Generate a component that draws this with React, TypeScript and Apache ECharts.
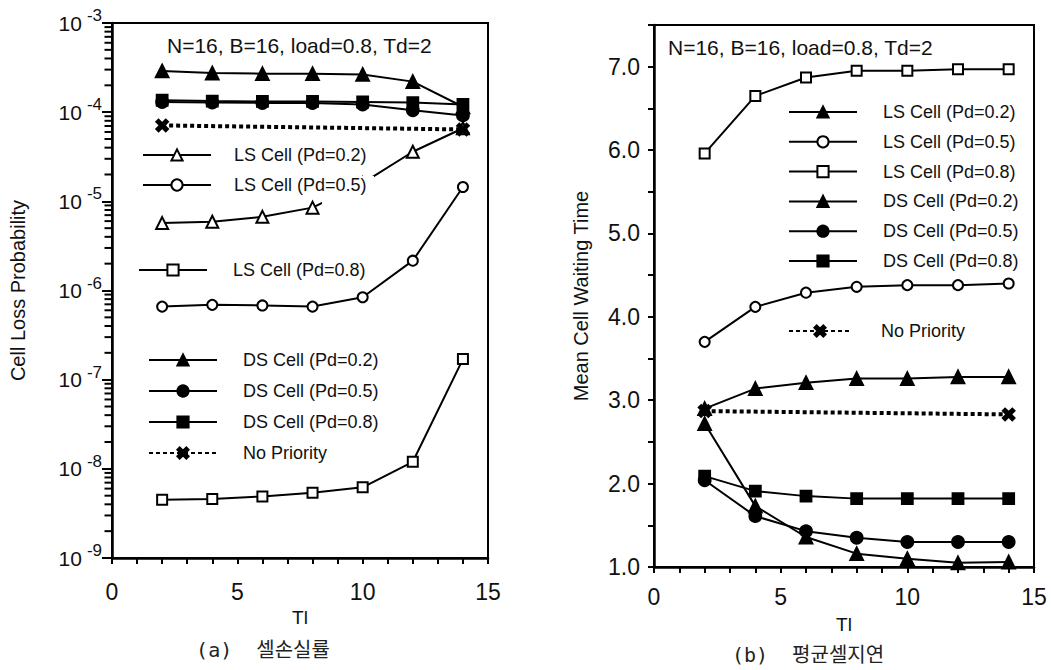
import React, { useEffect, useRef } from 'react';
import * as echarts from 'echarts';

const FONT = '"Liberation Sans", Arial, Helvetica, sans-serif';

// x positions (Tl)
const X_VALUES = [2, 4, 6, 8, 10, 12, 14];
const X_ENDS = [2, 14];

// (a) Cell loss probability
const LOSS_LS02 = [5.7e-6, 5.9e-6, 6.7e-6, 8.5e-6, 1.6e-5, 3.6e-5, 6.6e-5];
const LOSS_LS05 = [6.6e-7, 6.9e-7, 6.8e-7, 6.6e-7, 8.4e-7, 2.16e-6, 1.45e-5];
const LOSS_LS08 = [4.5e-9, 4.6e-9, 4.9e-9, 5.4e-9, 6.2e-9, 1.2e-8, 1.7e-7];
const LOSS_DS02 = [2.9e-4, 2.75e-4, 2.7e-4, 2.7e-4, 2.65e-4, 2.2e-4, 1.15e-4];
const LOSS_DS05 = [1.3e-4, 1.28e-4, 1.27e-4, 1.27e-4, 1.22e-4, 1.05e-4, 9.2e-5];
const LOSS_DS08 = [1.36e-4, 1.33e-4, 1.32e-4, 1.32e-4, 1.3e-4, 1.28e-4, 1.22e-4];
const LOSS_NP = [7.1e-5, 6.4e-5];

// (b) Mean cell waiting time
const WAIT_LS02 = [2.9, 3.14, 3.21, 3.26, 3.26, 3.28, 3.28];
const WAIT_LS05 = [3.7, 4.12, 4.29, 4.36, 4.38, 4.38, 4.4];
const WAIT_LS08 = [5.96, 6.65, 6.87, 6.95, 6.95, 6.97, 6.97];
const WAIT_DS02 = [2.72, 1.73, 1.36, 1.16, 1.1, 1.05, 1.06];
const WAIT_DS05 = [2.04, 1.61, 1.43, 1.35, 1.3, 1.3, 1.3];
const WAIT_DS08 = [2.09, 1.91, 1.85, 1.82, 1.82, 1.82, 1.82];
const WAIT_NP = [2.87, 2.83];

// log-axis minor tick multipliers and decades
const MINOR_MULT = [2, 3, 4, 5, 6, 7, 8, 9];
const DECADES = [-9, -8, -7, -6, -5, -4];

const NAMES = {
  ls02: 'LS Cell (Pd=0.2)',
  ls05: 'LS Cell (Pd=0.5)',
  ls08: 'LS Cell (Pd=0.8)',
  ds02: 'DS Cell (Pd=0.2)',
  ds05: 'DS Cell (Pd=0.5)',
  ds08: 'DS Cell (Pd=0.8)',
  np: 'No Priority',
};
const TITLE_TEXT = 'N=16, B=16, load=0.8, Td=2';

const X_SYMBOL = 'path://M0,2 L2,0 L5,3 L8,0 L10,2 L7,5 L10,8 L8,10 L5,7 L2,10 L0,8 L3,5 Z';

const pairs = (xs: number[], ys: number[]) => xs.map((x, i) => [x, ys[i]]);

function mkLine(name: string, idx: number, xs: number[], ys: number[], symbol: string, size: number, dotted = false) {
  return {
    type: 'line',
    name,
    xAxisIndex: idx,
    yAxisIndex: idx,
    data: pairs(xs, ys),
    symbol,
    symbolSize: size,
    showAllSymbol: true,
    color: '#000',
    z: 2,
    lineStyle: { color: '#000', width: dotted ? 4 : 2, type: dotted ? [4, 3] : 'solid' },
    itemStyle: { color: '#000', borderColor: '#000', borderWidth: 1.8 },
    emphasis: { disabled: true },
  };
}

const legendBase = (left: number, top: number, gap: number, pad: number, data: string[], itemWidth = 68) => ({
  orient: 'vertical',
  left,
  top,
  z: 200,
  padding: 0,
  itemGap: gap,
  itemWidth,
  itemHeight: 14,
  selectedMode: false,
  data,
  formatter: (n: string) => n.split('#')[0],
  textStyle: { fontSize: 18, fontFamily: FONT, color: '#111', lineHeight: 20, padding: [0, 0, 0, pad] },
});

export default function App() {
  const ref = useRef<HTMLDivElement>(null);
  useEffect(() => {
    if (!ref.current) return;
    const chart = echarts.init(ref.current, null, { renderer: 'svg' });

    const minorTicks: number[][] = [];
    DECADES.forEach((e) => MINOR_MULT.forEach((m) => minorTicks.push([0, m * Math.pow(10, e)])));

    const axisLine = { show: true, onZero: false, lineStyle: { color: '#000', width: 2.5 } };
    const tickLabel = { fontSize: 23, fontFamily: FONT, color: '#111' };
    const tick = (len: number, w = 2) => ({ show: true, inside: false, length: len, interval: 0, lineStyle: { color: '#000', width: w } });

    const B = '#b';

    const option: any = {
      animation: false,
      backgroundColor: '#fff',
      title: [
        { text: TITLE_TEXT, left: 167, top: 35, padding: 0, textStyle: { fontSize: 21, fontWeight: 'normal', fontFamily: FONT, color: '#111' } },
        { text: TITLE_TEXT, left: 668, top: 37, padding: 0, textStyle: { fontSize: 21, fontWeight: 'normal', fontFamily: FONT, color: '#111' } },
      ],
      grid: [
        { left: 112, top: 23, width: 376, height: 535, show: true, borderColor: '#000', borderWidth: 2, backgroundColor: 'transparent' },
        { left: 654, top: 25, width: 380, height: 542, show: true, borderColor: '#000', borderWidth: 2, backgroundColor: 'transparent' },
      ],
      xAxis: [
        {
          type: 'value', gridIndex: 0, min: 0, max: 15, interval: 1,
          axisLine, splitLine: { show: false },
          axisTick: tick(6),
          axisLabel: { ...tickLabel, margin: 22, formatter: (v: number) => (v % 5 === 0 ? String(v) : '') },
          name: 'Tl', nameLocation: 'middle', nameGap: 42,
          nameTextStyle: { fontSize: 19, fontFamily: FONT, color: '#111' },
        },
        {
          type: 'value', gridIndex: 1, min: 0, max: 15, interval: 1,
          axisLine, splitLine: { show: false },
          axisTick: tick(6),
          axisLabel: { ...tickLabel, margin: 18, formatter: (v: number) => (v % 5 === 0 ? String(v) : '') },
          name: 'Tl', nameLocation: 'middle', nameGap: 48,
          nameTextStyle: { fontSize: 19, fontFamily: FONT, color: '#111' },
        },
      ],
      yAxis: [
        {
          type: 'log', gridIndex: 0, logBase: 10, min: 1e-9, max: 1e-3, splitNumber: 6,
          axisLine, splitLine: { show: false },
          axisTick: tick(10, 2),
          axisLabel: {
            margin: 10,
            formatter: (v: number) => {
              const e = Math.round(Math.log10(v));
              return '{b|10}{s|' + e + '}';
            },
            rich: {
              b: { fontSize: 21, fontFamily: FONT, color: '#111', lineHeight: 32, verticalAlign: 'middle' },
              s: { fontSize: 17, fontFamily: FONT, color: '#111', lineHeight: 17, verticalAlign: 'top', padding: [0, 0, 0, 5] },
            },
          },
          name: 'Cell Loss Probability', nameLocation: 'middle', nameGap: 84,
          nameTextStyle: { fontSize: 20, fontFamily: FONT, color: '#111' },
        },
        {
          type: 'value', gridIndex: 1, min: 1, max: 7.5, interval: 0.5,
          axisLine, splitLine: { show: false },
          axisTick: tick(6),
          axisLabel: { ...tickLabel, margin: 14, formatter: (v: number) => (Math.abs(v - Math.round(v)) < 1e-6 ? v.toFixed(1) : '') },
          name: 'Mean Cell Waiting Time', nameLocation: 'middle', nameGap: 63,
          nameTextStyle: { fontSize: 20, fontFamily: FONT, color: '#111' },
        },
      ],
      legend: [
        legendBase(142, 145, 10, 18, [NAMES.ls02, NAMES.ls05]),
        legendBase(138, 260, 10, 21, [NAMES.ls08]),
        legendBase(148, 350, 11, 21, [NAMES.ds02, NAMES.ds05, NAMES.ds08, NAMES.np]),
        legendBase(788, 102, 9.8, 21, [NAMES.ls02 + B, NAMES.ls05 + B, NAMES.ls08 + B, NAMES.ds02 + B, NAMES.ds05 + B, NAMES.ds08 + B]),
        legendBase(788, 321, 10, 25, [NAMES.np + B], 62),
      ],
      graphic: {
        elements: [
          { type: 'rect', z: 100, zlevel: 0, shape: { x: 322, y: 176, width: 52, height: 34 }, style: { fill: '#ffffff', stroke: null }, silent: true },
          {
            type: 'text', x: 263, y: 650, z: 100,
            style: { text: '(a)  셀손실률', font: '20px "DejaVu Sans Mono", "Noto Sans CJK KR", monospace', fill: '#222', textAlign: 'center', textVerticalAlign: 'middle', align: 'center', verticalAlign: 'middle' },
          },
          {
            type: 'text', x: 808, y: 655, z: 100,
            style: { text: '(b)  평균셀지연', font: '20px "DejaVu Sans Mono", "Noto Sans CJK KR", monospace', fill: '#222', textAlign: 'center', textVerticalAlign: 'middle', align: 'center', verticalAlign: 'middle' },
          },
        ],
      },
      series: [
        {
          type: 'scatter', xAxisIndex: 0, yAxisIndex: 0, data: minorTicks, symbol: 'rect', z: 50,
          symbolSize: [7, 2], symbolOffset: [-4, 0], itemStyle: { color: '#000', opacity: 1 }, silent: true, clip: false,
        },
        mkLine(NAMES.ls02, 0, X_VALUES, LOSS_LS02, 'emptyTriangle', 12),
        mkLine(NAMES.ls05, 0, X_VALUES, LOSS_LS05, 'emptyCircle', 10),
        mkLine(NAMES.ls08, 0, X_VALUES, LOSS_LS08, 'emptyRect', 10),
        mkLine(NAMES.np, 0, X_ENDS, LOSS_NP, X_SYMBOL, 12, true),
        mkLine(NAMES.ds02, 0, X_VALUES, LOSS_DS02, 'triangle', 13),
        mkLine(NAMES.ds05, 0, X_VALUES, LOSS_DS05, 'circle', 12),
        mkLine(NAMES.ds08, 0, X_VALUES, LOSS_DS08, 'rect', 11),

        mkLine(NAMES.ls02 + B, 1, X_VALUES, WAIT_LS02, 'triangle', 13),
        mkLine(NAMES.ls05 + B, 1, X_VALUES, WAIT_LS05, 'emptyCircle', 10),
        mkLine(NAMES.ls08 + B, 1, X_VALUES, WAIT_LS08, 'emptyRect', 10),
        mkLine(NAMES.np + B, 1, X_ENDS, WAIT_NP, X_SYMBOL, 12, true),
        mkLine(NAMES.ds02 + B, 1, X_VALUES, WAIT_DS02, 'triangle', 13),
        mkLine(NAMES.ds05 + B, 1, X_VALUES, WAIT_DS05, 'circle', 12),
        mkLine(NAMES.ds08 + B, 1, X_VALUES, WAIT_DS08, 'rect', 11),
      ],
    };
    chart.setOption(option);
    return () => chart.dispose();
  }, []);
  return <div ref={ref} style={{ position: 'absolute', left: 0, top: 0, width: 1051, height: 670 }} />;
}
